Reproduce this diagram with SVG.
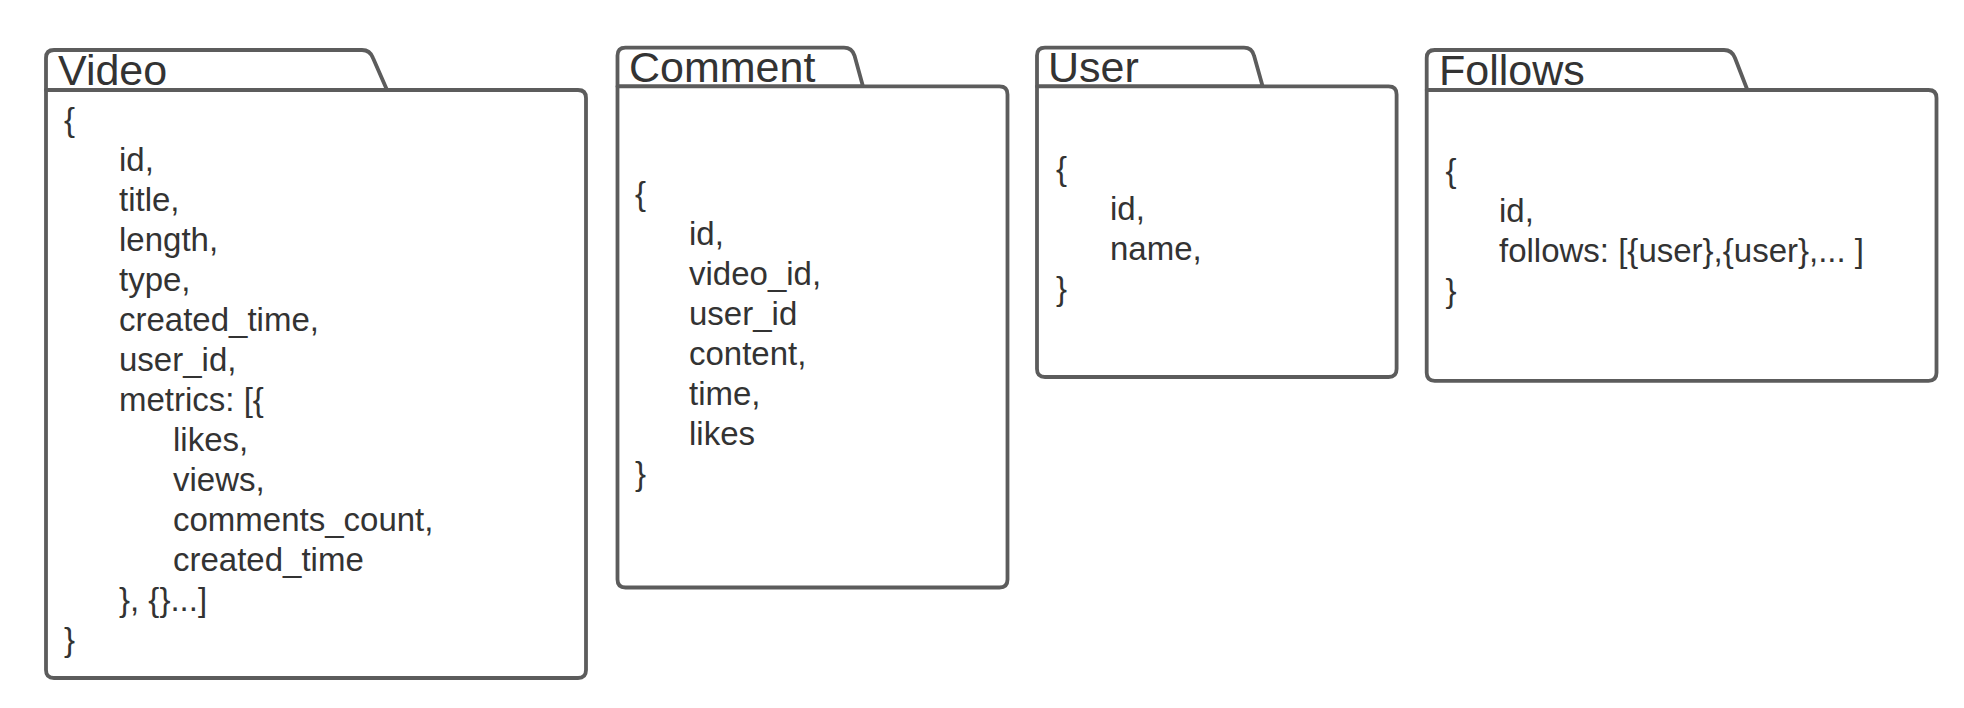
<svg xmlns="http://www.w3.org/2000/svg" width="1964" height="708" viewBox="0 0 1964 708">
<style>
.shape{fill:#ffffff;stroke:#5c5c5c;stroke-width:3.8;stroke-linejoin:round}
.title{font-family:"Liberation Sans",Arial,sans-serif;font-size:43px;fill:#333333}
.body{font-family:"Liberation Sans",Arial,sans-serif;font-size:33px;fill:#333333}
</style>
<rect width="1964" height="708" fill="#ffffff"/>
<g id="video">
<path class="shape" d="M46,90 L46,58 Q46,50 54,50 L362,50 Q370,50 373,58 L387,90 Z"/>
<path class="shape" d="M46,90 L578,90 Q586,90 586,98 L586,670 Q586,678 578,678 L54,678 Q46,678 46,670 Z"/>
<text class="title" x="58" y="85">Video</text>
<text class="body">
<tspan x="64" y="130.5">{</tspan>
<tspan x="119" y="170.5">id,</tspan>
<tspan x="119" y="210.5">title,</tspan>
<tspan x="119" y="250.5">length,</tspan>
<tspan x="119" y="290.5">type,</tspan>
<tspan x="119" y="330.5">created_time,</tspan>
<tspan x="119" y="370.5">user_id,</tspan>
<tspan x="119" y="410.5">metrics: [{</tspan>
<tspan x="173" y="450.5">likes,</tspan>
<tspan x="173" y="490.5">views,</tspan>
<tspan x="173" y="530.5">comments_count,</tspan>
<tspan x="173" y="570.5">created_time</tspan>
<tspan x="119" y="610.5">}, {}...]</tspan>
<tspan x="64" y="650.5">}</tspan>
</text>
</g>
<g id="comment">
<path class="shape" d="M617.5,86.4 L617.5,55.6 Q617.5,47.6 625.5,47.6 L844,47.6 Q852,47.6 854.5,55.6 L863,86.4 Z"/>
<path class="shape" d="M617.5,86.4 L999.5,86.4 Q1007.5,86.4 1007.5,94.4 L1007.5,579.5 Q1007.5,587.5 999.5,587.5 L625.5,587.5 Q617.5,587.5 617.5,579.5 Z"/>
<text class="title" x="629" y="82">Comment</text>
<text class="body">
<tspan x="635" y="204.5">{</tspan>
<tspan x="689" y="244.5">id,</tspan>
<tspan x="689" y="284.5">video_id,</tspan>
<tspan x="689" y="324.5">user_id</tspan>
<tspan x="689" y="364.5">content,</tspan>
<tspan x="689" y="404.5">time,</tspan>
<tspan x="689" y="444.5">likes</tspan>
<tspan x="635" y="484.5">}</tspan>
</text>
</g>
<g id="user">
<path class="shape" d="M1037,86.4 L1037,55.6 Q1037,47.6 1045,47.6 L1244,47.6 Q1252,47.6 1254,55.6 L1262.7,86.4 Z"/>
<path class="shape" d="M1037,86.4 L1388.6,86.4 Q1396.6,86.4 1396.6,94.4 L1396.6,369 Q1396.6,377 1388.6,377 L1045,377 Q1037,377 1037,369 Z"/>
<text class="title" x="1048" y="82">User</text>
<text class="body">
<tspan x="1056" y="179.5">{</tspan>
<tspan x="1110" y="219.5">id,</tspan>
<tspan x="1110" y="259.5">name,</tspan>
<tspan x="1056" y="299.5">}</tspan>
</text>
</g>
<g id="follows">
<path class="shape" d="M1426.7,90 L1426.7,58 Q1426.7,50 1434.7,50 L1724,50 Q1732,50 1735,58 L1747.4,90 Z"/>
<path class="shape" d="M1426.7,90 L1928.5,90 Q1936.5,90 1936.5,98 L1936.5,372.8 Q1936.5,380.8 1928.5,380.8 L1434.7,380.8 Q1426.7,380.8 1426.7,372.8 Z"/>
<text class="title" x="1439" y="85">Follows</text>
<text class="body">
<tspan x="1445.5" y="182">{</tspan>
<tspan x="1499" y="222">id,</tspan>
<tspan x="1499" y="262">follows: [{user},{user},... ]</tspan>
<tspan x="1445.5" y="302">}</tspan>
</text>
</g>
<g id="connectors"></g>
</svg>
